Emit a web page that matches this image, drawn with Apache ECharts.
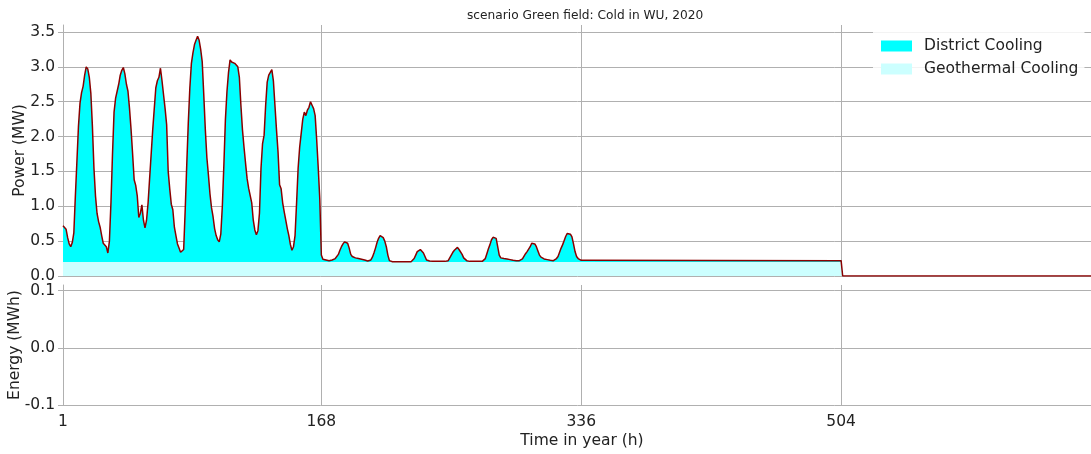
<!DOCTYPE html>
<html>
<head>
<meta charset="utf-8">
<script src="https://cdn.jsdelivr.net/npm/echarts@6/dist/echarts.min.js"></script>
<style>
  html, body { margin: 0; padding: 0; background: #fff; }
  #chart { width: 1091px; height: 454px; }
</style>
</head>
<body>
<div id="chart"></div>
<script>
// ---- data (hourly district cooling in MW) ----
const districtWeek1 = [
  0.52,0.50,0.47,0.35,0.26,0.22,0.28,0.42,0.95,1.45,1.95,2.28,2.43,2.52,2.68,2.80,2.77,2.65,2.42,1.95,1.35,0.95,0.70,0.58,
  0.50,0.38,0.27,0.25,0.22,0.13,0.30,0.85,1.55,2.15,2.35,2.45,2.55,2.68,2.75,2.79,2.70,2.55,2.45,2.20,1.90,1.55,1.18,1.10,
  0.95,0.64,0.70,0.82,0.60,0.49,0.60,0.85,1.20,1.55,1.90,2.20,2.50,2.60,2.65,2.78,2.60,2.40,2.20,1.97,1.30,1.05,0.83,0.75,
  0.50,0.38,0.26,0.20,0.14,0.12,0.18,0.75,1.40,2.00,2.50,2.85,3.00,3.12,3.18,3.24,3.18,3.05,2.87,2.40,1.90,1.50,1.25,0.98,
  0.78,0.65,0.48,0.38,0.32,0.29,0.40,0.80,1.40,2.05,2.45,2.72,2.90,2.87,2.87,2.85,2.86,2.80,2.65,2.25,1.90,1.65,1.42,1.20,
  1.06,1.04,0.85,0.60,0.46,0.39,0.45,0.70,1.35,1.70,1.82,2.25,2.58,2.68,2.72,2.76,2.60,2.25,1.90,1.58,1.11,1.05,0.85,0.72,
  0.60,0.48,0.38,0.25,0.17,0.22,0.38,0.85,1.35,1.65,1.85,2.05,2.15,2.10,2.18,2.22,2.30,2.25,2.20,2.10,1.75,1.35,0.90,0.10
];
const districtWeek2 = [
  0.04,0.03,0.03,0.02,0.02,0.02,0.03,0.03,0.05,0.07,0.11,0.17,0.22,0.26,0.29,0.28,0.27,0.20,0.11,0.08,0.07,0.06,0.05,0.05,
  0.045,0.04,0.035,0.03,0.02,0.015,0.015,0.03,0.07,0.13,0.20,0.28,0.34,0.38,0.39,0.35,0.30,0.22,0.10,0.02,0.01,0.005,0.005,0.005,
  0.005,0.005,0.005,0.005,0.005,0.005,0.005,0.005,0.005,0.005,0.005,0.05,0.10,0.15,0.17,0.18,0.17,0.13,0.08,0.03,0.02,0.015,0.01,0.01,
  0.01,0.01,0.01,0.01,0.01,0.01,0.01,0.01,0.01,0.02,0.06,0.10,0.14,0.17,0.19,0.21,0.18,0.16,0.11,0.06,0.035,0.02,0.015,0.01,
  0.01,0.01,0.01,0.01,0.01,0.01,0.01,0.01,0.01,0.05,0.12,0.19,0.25,0.32,0.355,0.35,0.34,0.22,0.10,0.06,0.055,0.05,0.05,0.045,
  0.04,0.035,0.03,0.025,0.02,0.02,0.02,0.02,0.03,0.045,0.07,0.12,0.15,0.16,0.22,0.27,0.28,0.26,0.22,0.16,0.10,0.07,0.055,0.045,
  0.04,0.035,0.03,0.025,0.02,0.02,0.025,0.05,0.08,0.14,0.20,0.25,0.31,0.37,0.41,0.41,0.40,0.36,0.26,0.15,0.08,0.05,0.035,0.025
];
// [hour, MW] breakpoints for the flat remainder
const districtTail = [[337, 0.02], [504, 0.02], [505, 0], [672, 0]];
const geothermal = [[1, 0.2], [504, 0.2], [505, 0], [672, 0]];

const hourTicks = [1, 168, 336, 504];
const powerTicks = [0, 0.5, 1.0, 1.5, 2.0, 2.5, 3.0, 3.5];
const energyTicks = [-0.1, 0, 0.1];
const seriesNames = ['District Cooling', 'Geothermal Cooling'];
const titleText = 'scenario Green field: Cold in WU, 2020';

// ---- build ----
const districtPts = districtWeek1.map((v, i) => [i + 1, v])
  .concat(districtWeek2.map((v, i) => [i + 169, v]))
  .concat(districtTail);
function geoAt(h) {
  let val = 0;
  for (const p of geothermal) { if (p[0] <= h) val = p[1]; }
  return val;
}
const totalPts = districtPts.map(p => [p[0], +(p[1] + geoAt(p[0])).toFixed(4)]);

const FONT = 'DejaVu Sans';
const FS = 15.5;
const GRID = '#b0b0b0';
const TXT = '#222';

const chart = echarts.init(document.getElementById('chart'), null, { renderer: 'canvas' });
chart.setOption({
  animation: false,
  backgroundColor: '#fff',
  textStyle: { fontFamily: FONT },
  title: {
    text: titleText, left: 462, top: 5,
    textStyle: { fontFamily: FONT, fontSize: 12.2, fontWeight: 'normal', color: TXT }
  },
  legend: {
    data: seriesNames, orient: 'vertical', left: 873, top: 29,
    padding: [8, 6, 8, 8], itemGap: 5, itemWidth: 31, itemHeight: 11, icon: 'rect',
    backgroundColor: 'rgba(255,255,255,0.85)',
    itemStyle: { borderWidth: 0 },
    textStyle: { fontFamily: FONT, fontSize: FS, color: TXT, lineHeight: 18, padding: [0, 0, 0, 7] }
  },
  grid: [
    { left: 63, top: 25, width: 1038, height: 251, containLabel: false, outerBoundsMode: 'none' },
    { left: 63, top: 285, width: 1038, height: 120, containLabel: false, outerBoundsMode: 'none' }
  ],
  xAxis: [
    {
      type: 'value', gridIndex: 0, min: 1, max: 672,
      axisLine: { show: false }, axisTick: { show: false, customValues: hourTicks },
      axisLabel: { show: false, customValues: hourTicks },
      splitLine: { show: true, lineStyle: { color: GRID, width: 1 } }
    },
    {
      type: 'value', gridIndex: 1, min: 1, max: 672,
      name: 'Time in year (h)', nameLocation: 'middle', nameGap: 28, nameMoveOverlap: false,
      nameTextStyle: { fontFamily: FONT, fontSize: FS, color: TXT },
      axisLine: { show: false },
      axisTick: { show: true, length: 5, customValues: hourTicks, lineStyle: { color: GRID } },
      axisLabel: { customValues: hourTicks, margin: 9, fontFamily: FONT, fontSize: FS, color: TXT },
      splitLine: { show: true, lineStyle: { color: GRID, width: 1 } }
    }
  ],
  yAxis: [
    {
      type: 'value', gridIndex: 0, min: 0, max: 3.6,
      name: 'Power (MW)', nameLocation: 'middle', nameGap: 35, nameRotate: 90, nameMoveOverlap: false,
      nameTextStyle: { fontFamily: FONT, fontSize: FS, color: TXT },
      axisLine: { show: true, lineStyle: { color: GRID } },
      axisTick: { show: true, length: 5, customValues: powerTicks, lineStyle: { color: GRID } },
      axisLabel: { customValues: powerTicks, margin: 8, fontFamily: FONT, fontSize: FS, color: TXT,
                   formatter: v => v.toFixed(1) },
      splitLine: { show: true, lineStyle: { color: GRID, width: 1 } }
    },
    {
      type: 'value', gridIndex: 1, min: -0.1, max: 0.11,
      name: 'Energy (MWh)', nameLocation: 'middle', nameGap: 40, nameRotate: 90, nameMoveOverlap: false,
      nameTextStyle: { fontFamily: FONT, fontSize: FS, color: TXT },
      axisLine: { show: true, lineStyle: { color: GRID } },
      axisTick: { show: true, length: 5, customValues: energyTicks, lineStyle: { color: GRID } },
      axisLabel: { customValues: energyTicks, margin: 8, fontFamily: FONT, fontSize: FS, color: TXT,
                   formatter: v => v.toFixed(1) },
      splitLine: { show: true, lineStyle: { color: GRID, width: 1 } }
    }
  ],
  series: [
    {
      name: seriesNames[0], type: 'line', xAxisIndex: 0, yAxisIndex: 0,
      data: totalPts, showSymbol: false, symbol: 'none', z: 2,
      lineStyle: { width: 0 }, itemStyle: { color: '#00ffff', borderWidth: 0 },
      areaStyle: { color: '#00ffff', opacity: 1 }
    },
    {
      name: seriesNames[1], type: 'line', xAxisIndex: 0, yAxisIndex: 0,
      data: geothermal, showSymbol: false, symbol: 'none', z: 3,
      lineStyle: { width: 0 }, itemStyle: { color: '#ccffff', borderWidth: 0 },
      areaStyle: { color: '#ccffff', opacity: 1 }
    },
    {
      name: 'total', type: 'line', xAxisIndex: 0, yAxisIndex: 0,
      data: totalPts, showSymbol: false, symbol: 'none', z: 4,
      lineStyle: { width: 1.5, color: '#8b0000' }, itemStyle: { color: '#8b0000' }
    }
  ]
});
</script>
</body>
</html>
